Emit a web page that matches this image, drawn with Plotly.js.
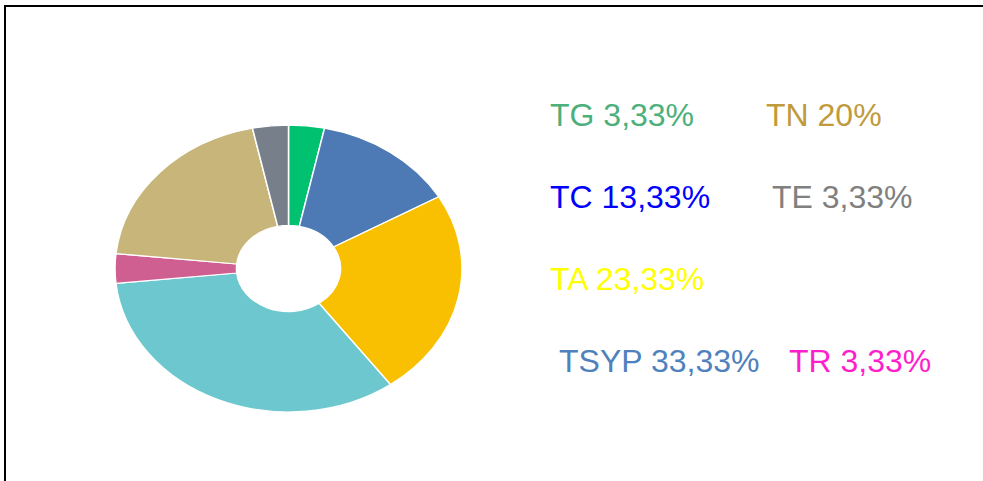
<!DOCTYPE html>
<html>
<head>
<meta charset="utf-8">
<script src="https://cdn.plot.ly/plotly-3.0.1.min.js"></script>
<style>
  html, body { margin: 0; padding: 0; background: #ffffff; }
  #wrap { position: relative; width: 983px; height: 481px; overflow: hidden; }
  #chart { position: absolute; left: 0; top: 0; width: 983px; height: 481px; }
  #frame { position: absolute; left: 4px; top: 5px; width: 990px; height: 490px;
           border-top: 2px solid #000; border-left: 2px solid #000; pointer-events: none; z-index: 5; }
</style>
</head>
<body>
<div id="wrap">
  <div id="chart"></div>
  <div id="frame"></div>
</div>
<script>
// ---- data ----
const categories = ['TG', 'TC', 'TA', 'TSYP', 'TR', 'TN', 'TE'];
const percents = [3.33, 13.33, 23.33, 33.33, 3.33, 20, 3.33];
const sliceColors = ['#00c170', '#4d7ab5', '#f8c000', '#6cc8ce', '#d05f91', '#c7b57a', '#77808a'];
const labelColors = ['#4bb07b', '#0000ff', '#ffff00', '#4f81bd', '#ff1ecc', '#bf9b3c', '#808080'];

// ---- layout helpers ----
const W = 983, H = 481;
const px = x => x / W;
const py = y => 1 - y / H;
const fontSize = 32;

// left edge and baseline of each label (pixels)
const labelPos = {
  TG:   [550, 125.7],
  TN:   [766, 125.7],
  TC:   [550, 208.3],
  TE:   [772, 208.3],
  TA:   [550, 290],
  TSYP: [559, 371.7],
  TR:   [789, 371.7]
};

const annotations = categories.map((c, i) => {
  const p = labelPos[c];
  const txt = c + ' ' + String(percents[i]).replace('.', ',') + '%';
  return {
    text: txt, showarrow: false, xref: 'paper', yref: 'paper',
    x: px(p[0] - 2), y: py(p[1] - 11), xanchor: 'left', yanchor: 'middle',
    font: { family: 'Liberation Sans, Arial, sans-serif', size: fontSize, color: labelColors[i] }
  };
});

const cx = 288.5, cy = 268.5, r = 173.5;
const trace = {
  type: 'pie',
  labels: categories,
  values: percents,
  sort: false,
  direction: 'clockwise',
  rotation: 0,
  hole: 0.30,
  textinfo: 'none',
  hoverinfo: 'none',
  marker: { colors: sliceColors, line: { color: '#ffffff', width: 1.5 } },
  domain: { x: [px(cx - r), px(cx + r)], y: [1 - (cy + r) / H, 1 - (cy - r) / H] }
};

const layout = {
  width: W, height: H,
  margin: { l: 0, r: 0, t: 0, b: 0 },
  paper_bgcolor: '#ffffff',
  showlegend: false,
  annotations: annotations
};

Plotly.newPlot('chart', [trace], layout, { displayModeBar: false, staticPlot: true }).then(gd => {
  const pl = gd.querySelector('.pielayer');
  if (pl) {
    pl.style.transformOrigin = cx + 'px ' + cy + 'px';
    pl.style.transform = 'scaleY(0.827)';
  }
});
</script>
</body>
</html>
